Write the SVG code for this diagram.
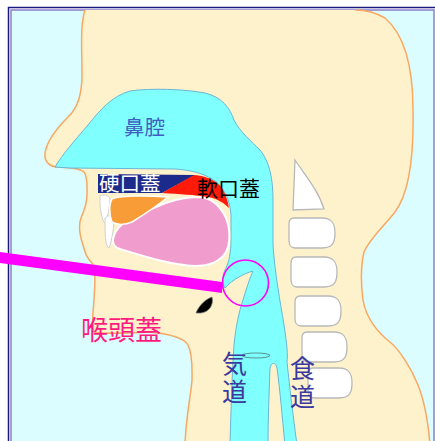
<svg xmlns="http://www.w3.org/2000/svg" width="435" height="441" viewBox="0 0 435 441">
<style>
.lbl{font-family:"Noto Sans CJK JP","Noto Sans CJK SC",sans-serif;}
.vert{writing-mode:vertical-rl;letter-spacing:3px;}
.skin{fill:#fef2cd;}
.outline{fill:none;stroke:#f7a862;stroke-width:1.5;}
.air{fill:#80ffff;stroke:#6ab6d6;stroke-width:1;}
.bone{fill:#ffffff;stroke:#b8b8b8;stroke-width:1.3;}
.tooth{fill:#ffffff;stroke:#d0d0d0;stroke-width:1;}
</style>
<rect x="0" y="0" width="435" height="441" fill="#ffffff"/>
<rect x="8.5" y="7.5" width="440" height="450" fill="#ffffff" stroke="#1a1a80" stroke-width="1.5"/>
<rect x="11" y="10" width="423" height="450" fill="#dcfdff" stroke="#8a80c8" stroke-width="1.5"/>

<g id="head">
<path class="skin" d="M 85,10 C 80,25 82,50 82,75 C 82,95 78,108 68,117 C 58,127 47,140 45,153 C 44,162 50,167 58,167 C 68,168 78,167 84,172 C 88,177 87,188 87,195 C 87,203 84,211 81,218 C 78,226 80,236 83,245 C 85,252 86,257 92,263 C 96,270 95,285 94,300 C 93,315 91,325 94,332 C 100,334 130,333 150,332 C 170,334 184,338 188,345 C 193,355 192,370 192,380 C 191,395 186,415 185,445 L 430,445 C 428,420 424,400 418,385 C 412,370 400,350 390,342 C 378,333 366,318 363,300 C 361,285 361,265 364,252 C 370,238 385,225 395,212 C 408,195 414,160 413,110 C 413,70 405,35 385,18 C 375,12 365,10 355,10 Z"/>
<path class="outline" d="M 85,10 C 80,25 82,50 82,75 C 82,95 78,108 68,117 C 58,127 47,140 45,153 C 44,162 50,167 58,167 C 68,168 78,167 84,172 C 88,177 87,188 87,195 C 87,203 84,211 81,218 C 78,226 80,236 83,245 C 85,252 86,257 92,263 C 96,270 95,285 94,300 C 93,315 91,325 94,332 C 100,334 130,333 150,332 C 170,334 184,338 188,345 C 193,355 192,370 192,380 C 191,395 186,415 185,445"/>
<path class="outline" d="M 430,445 C 428,420 424,400 418,385 C 412,370 400,350 390,342 C 378,333 366,318 363,300 C 361,285 361,265 364,252 C 370,238 385,225 395,212 C 408,195 414,160 413,110 C 413,70 405,35 385,18 C 375,12 365,10 355,10"/>
</g>

<g id="airway">
<path class="air" d="M 55,167 C 62,155 75,140 88,125 C 100,110 112,96 130,91 C 150,88 185,89 205,93 C 222,97 230,108 234,120 C 240,132 252,142 260,150 C 270,162 273,180 273,200 L 273,245 C 275,275 280,300 284,325 C 287,345 288,355 287,362 C 290,390 293,415 297,445 L 285,445 C 282,415 280,390 277,368 C 276,362 271,362 270,368 C 269,395 268,420 268,445 L 230,445 C 231,410 232,375 234,345 C 236,325 239,312 243,300 C 246,290 249,280 253,271 C 243,274 232,280 225,288 C 222,283 222,275 226,268 C 229,262 231,252 231,240 L 231,215 C 230,200 224,186 212,179 C 202,173 190,170 175,169 L 70,168 Z"/>
<ellipse cx="256" cy="355.5" rx="14" ry="2.5" fill="none" stroke="#4a7a70" stroke-width="0.8"/>
</g>

<g id="spine">
<path class="bone" d="M 295,160 C 305,175 318,190 324,209 L 293,210 Z"/>
<path class="bone" d="M 294,218 L 322,218 C 333,218 335,225 335,233 C 335,242 333,248 322,248 L 295,248 C 290,248 289,245 289,240 L 289,224 C 289,220 290,218 294,218 Z"/>
<path class="bone" d="M 296,257 L 324,257 C 335,257 337,264 337,272 C 337,281 335,287 324,287 L 297,287 C 292,287 291,284 291,279 L 291,263 C 291,259 292,257 296,257 Z"/>
<path class="bone" d="M 300,296 L 328,296 C 339,296 341,303 341,311 C 341,320 339,326 328,326 L 301,326 C 296,326 295,323 295,318 L 295,302 C 295,298 296,296 300,296 Z"/>
<path class="bone" d="M 307,332 L 334,332 C 345,332 347,339 347,347 C 347,356 345,362 334,362 L 308,362 C 303,362 302,359 302,354 L 302,338 C 302,334 303,332 307,332 Z"/>
<path class="bone" d="M 313,368 L 339,368 C 350,368 352,375 352,383 C 352,392 350,398 339,398 L 314,398 C 309,398 308,395 308,390 L 308,374 C 308,370 309,368 313,368 Z"/>
</g>

<g id="teeth">
<path class="tooth" d="M 100,196 C 103,194 108,195 110,198 C 110,207 108,216 105,223 C 103,223 101,214 100,205 Z"/>
<path class="tooth" d="M 105,218 C 108,215 112,215 114,217 C 114,228 112,240 109,248 C 106,248 105,236 105,226 Z"/>
</g>

<g id="tongue">
<path fill="#f09dcd" stroke="#ffffff" stroke-width="2" d="M 113,240 C 114,228 128,218 147,211 C 160,205 175,198 197,197 C 210,197 220,205 226,218 C 231,230 230,245 226,252 C 220,262 210,266 195,266 C 170,265 140,255 120,249 C 114,247 113,244 113,240 Z"/>
</g>

<g id="palate-orange">
<path fill="#f89c38" stroke="#ffffff" stroke-width="1.5" d="M 112,199 C 118,196 140,195 168,197 C 158,205 145,214 132,222 C 125,225 117,225 112,222 C 109,215 109,204 112,199 Z"/>
</g>

<g id="hard-palate">
<path fill="#1c2a8c" d="M 98,174 L 195,175 L 162,193 L 98,193 Z"/>
<text class="lbl" x="99" y="191" font-size="20.5" fill="#ffffff">硬口蓋</text>
</g>

<g id="soft-palate">
<path fill="#ff1a0a" d="M 162,193 L 194,175 C 206,176 216,180 222,188 C 226,195 228,202 229,208 C 224,203 218,199 208,197 C 195,195 180,194 162,193 Z"/>
<text class="lbl" x="197" y="196" font-size="21" fill="#000000">軟口蓋</text>
</g>

<g id="hyoid">
<path fill="#000000" stroke="#777777" stroke-width="0.8" d="M 196,313 C 199,305 206,299 212,297 C 214,305 209,312 201,313 Z"/>
</g>

<g id="labels">
<text class="lbl" x="124" y="135" font-size="20.5" fill="#3f5fc0">鼻腔</text>
<text class="lbl" x="81" y="340" font-size="27" fill="#ff1a80">喉頭蓋</text>
<text class="lbl vert" x="234.5" y="351" font-size="25" fill="#3a3aa0">気道</text>
<text class="lbl vert" x="302.5" y="356" font-size="25" fill="#3a3aa0">食道</text>
</g>

<g id="pointer">
<polygon points="0,252 222,282 222,293 0,263" fill="#ff00ff"/>
<circle cx="245.5" cy="283" r="23" fill="none" stroke="#ff00ff" stroke-width="1.6"/>
</g>
</svg>
